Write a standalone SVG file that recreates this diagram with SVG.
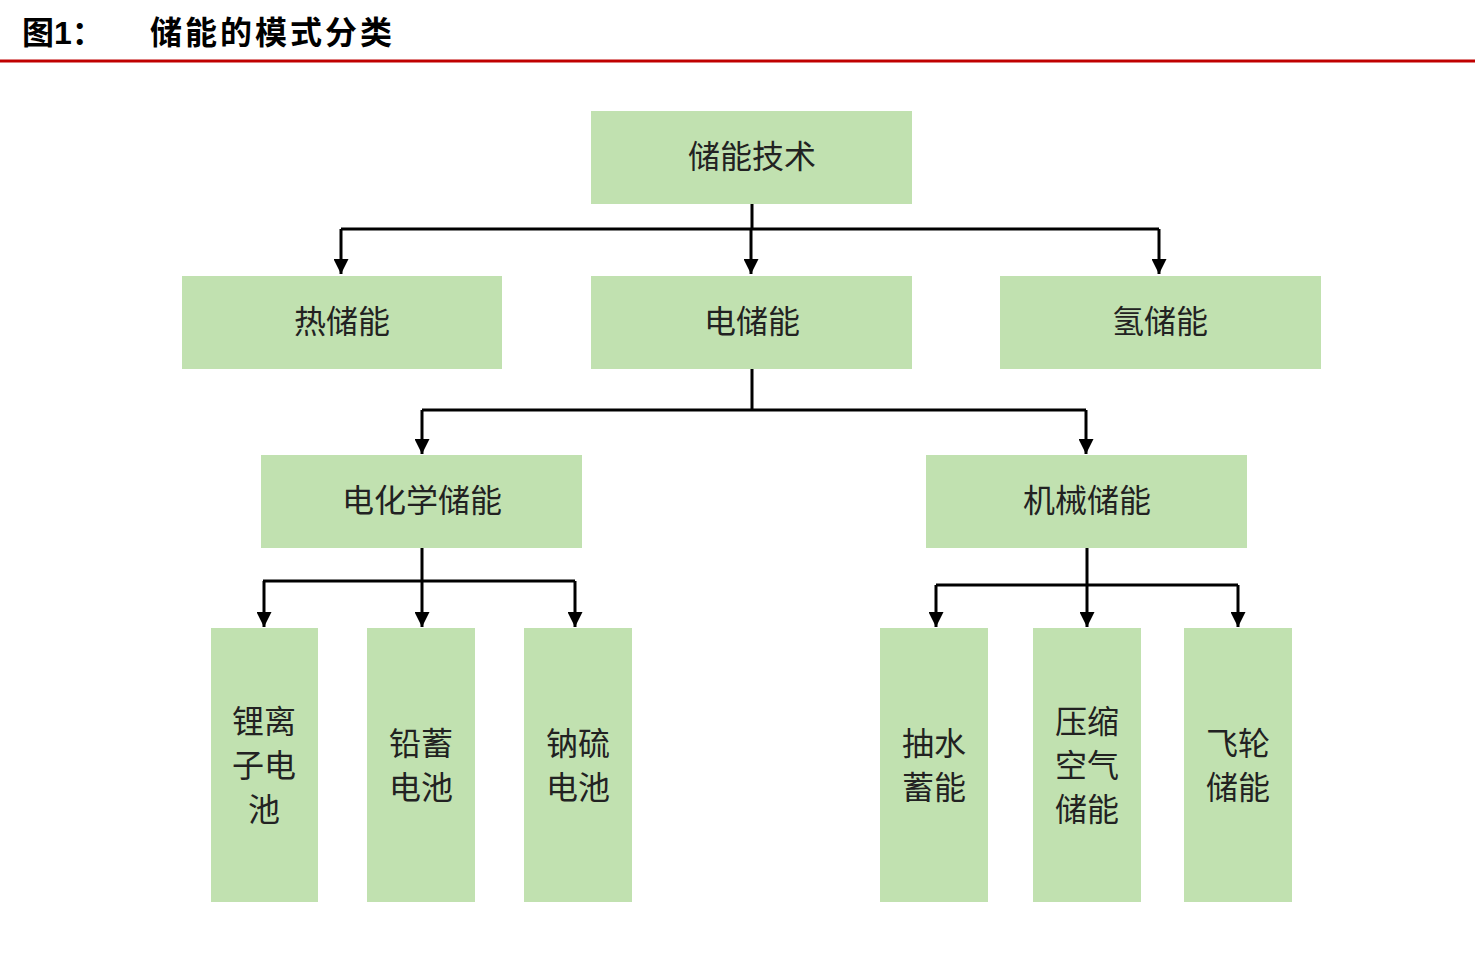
<svg xmlns="http://www.w3.org/2000/svg" width="1478" height="962" viewBox="0 0 1478 962">
<defs>
<style>
.b{fill:#c1e1b0}
.t{font-family:"Liberation Sans","Noto Sans CJK SC",sans-serif;font-size:32px;fill:#222;text-anchor:middle}
.c{stroke:#000;stroke-width:3;fill:none}
</style>
<marker id="a" viewBox="0 0 10 10" refX="10" refY="5" markerWidth="5" markerHeight="5" orient="auto" markerUnits="strokeWidth"><path d="M0,0L10,5L0,10z" fill="#000"/></marker>
</defs>
<rect width="1478" height="962" fill="#fff"/>
<text x="22" y="44" style="font-family:'Liberation Sans','Noto Sans CJK SC',sans-serif;font-size:32px;font-weight:bold">图1：</text>
<text x="150" y="44" style="font-family:'Liberation Sans','Noto Sans CJK SC',sans-serif;font-size:32px;font-weight:bold;letter-spacing:3px">储能的模式分类</text>
<line x1="0" y1="61" x2="1475" y2="61" stroke="#c00000" stroke-width="3"/>
<g id="connectors" class="c">
<path d="M752,204V229M341,229H1159"/>
<path d="M341,229V274" marker-end="url(#a)"/><path d="M751,229V274" marker-end="url(#a)"/><path d="M1159,229V274" marker-end="url(#a)"/>
<path d="M752,369V410M422,410H1086"/>
<path d="M422,410V454" marker-end="url(#a)"/><path d="M1086,410V454" marker-end="url(#a)"/>
<path d="M422,548V581M263,581H575"/>
<path d="M264,581V627" marker-end="url(#a)"/><path d="M422,581V627" marker-end="url(#a)"/><path d="M575,581V627" marker-end="url(#a)"/>
<path d="M1087,548V585M936,585H1238"/>
<path d="M936,585V627" marker-end="url(#a)"/><path d="M1087,585V627" marker-end="url(#a)"/><path d="M1238,585V627" marker-end="url(#a)"/>
</g>
<g id="root"><rect class="b" x="591" y="111" width="321" height="93"/><text class="t" x="752" y="168">储能技术</text></g>
<g id="heat"><rect class="b" x="182" y="276" width="320" height="93"/><text class="t" x="342" y="333">热储能</text></g>
<g id="elec"><rect class="b" x="591" y="276" width="321" height="93"/><text class="t" x="752" y="333">电储能</text></g>
<g id="h2"><rect class="b" x="1000" y="276" width="321" height="93"/><text class="t" x="1160" y="333">氢储能</text></g>
<g id="chem"><rect class="b" x="261" y="455" width="321" height="93"/><text class="t" x="422" y="512">电化学储能</text></g>
<g id="mech"><rect class="b" x="926" y="455" width="321" height="93"/><text class="t" x="1087" y="512">机械储能</text></g>
<g id="li"><rect class="b" x="211" y="628" width="107" height="274"/><text class="t" x="264" y="733">锂离</text><text class="t" x="264" y="777">子电</text><text class="t" x="264" y="821">池</text></g>
<g id="pb"><rect class="b" x="367" y="628" width="108" height="274"/><text class="t" x="421" y="755">铅蓄</text><text class="t" x="421" y="799">电池</text></g>
<g id="nas"><rect class="b" x="524" y="628" width="108" height="274"/><text class="t" x="578" y="755">钠硫</text><text class="t" x="578" y="799">电池</text></g>
<g id="pump"><rect class="b" x="880" y="628" width="108" height="274"/><text class="t" x="934" y="755">抽水</text><text class="t" x="934" y="799">蓄能</text></g>
<g id="caes"><rect class="b" x="1033" y="628" width="108" height="274"/><text class="t" x="1087" y="733">压缩</text><text class="t" x="1087" y="777">空气</text><text class="t" x="1087" y="821">储能</text></g>
<g id="fly"><rect class="b" x="1184" y="628" width="108" height="274"/><text class="t" x="1238" y="755">飞轮</text><text class="t" x="1238" y="799">储能</text></g>
</svg>
